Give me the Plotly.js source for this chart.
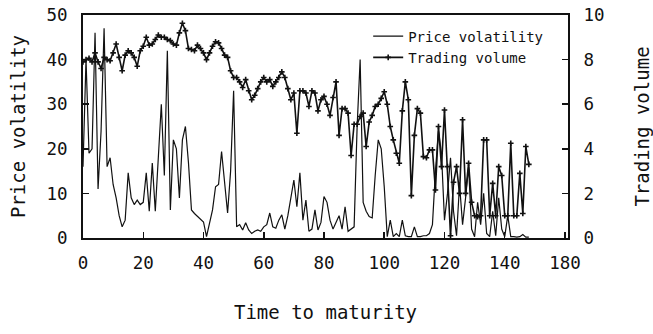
<!DOCTYPE html>
<html>
<head>
<meta charset="utf-8">
<script src="https://cdn.plot.ly/plotly-3.0.1.min.js"></script>
<style>
  html, body { margin: 0; padding: 0; background: #fff; }
  #chart { width: 653px; height: 334px; }
</style>
</head>
<body>
<div id="chart"></div>
<script>
// Days remaining until contract maturity
const timeToMaturity = [
  0, 1, 2, 3, 4, 5, 6, 7, 8, 9, 10, 11, 12, 13, 14, 15, 16, 17, 18, 19,
  20, 21, 22, 23, 24, 25, 26, 27, 28, 29, 30, 31, 32, 33, 34, 35, 36, 37, 38, 39,
  40, 41, 42, 43, 44, 45, 46, 47, 48, 49, 50, 51, 52, 53, 54, 55, 56, 57, 58, 59,
  60, 61, 62, 63, 64, 65, 66, 67, 68, 69, 70, 71, 72, 73, 74, 75, 76, 77, 78, 79,
  80, 81, 82, 83, 84, 85, 86, 87, 88, 89, 90, 91, 92, 93, 94, 95, 96, 97, 98, 99,
  100, 101, 102, 103, 104, 105, 106, 107, 108, 109, 110, 111, 112, 113, 114, 115, 116, 117, 118, 119,
  120, 121, 122, 123, 124, 125, 126, 127, 128, 129, 130, 131, 132, 133, 134, 135, 136, 137, 138, 139,
  140, 141, 142, 143, 144, 145, 146, 147, 148
];

// Price volatility (left axis)
const priceVolatility = [
  16, 40, 19, 20, 46, 11, 24, 47, 16, 18, 12, 9, 5, 2.5, 4, 14.6, 9, 7.5, 8.5, 7.5,
  8, 14.6, 6, 16.8, 6, 19.4, 30, 14, 42, 6.3, 22, 20, 9, 22, 25, 17, 6.3, 5.5, 4.8, 4.3,
  3.6, 0.3, 3.2, 6.3, 11.5, 12, 19.4, 12, 5.6, 15, 33, 2.5, 3, 1.8, 3.4, 1.8, 1, 1.5, 1.8, 1.5,
  2.5, 3, 5.6, 2.5, 2.2, 4, 5.2, 2, 5, 9, 13, 7, 14.6, 4, 8.5, 1.5, 2, 6.3, 1.8, 3.5,
  9.3, 8, 4, 2, 3.5, 5, 2, 7, 1.5, 2, 2.5, 25, 40, 8, 6, 4.8, 4.5, 14, 22, 20,
  11.5, 0.3, 4, 0.3, 1, 0.3, 4, 0.5, 0.3, 0.3, 2.5, 0.3, 0.3, 0.5, 0.5, 1, 3, 15, 24, 19,
  4, 10, 18, 6, 0.5, 12, 3, 9, 16, 2, 0.3, 8, 3, 10, 1, 0.3, 6, 0.5, 9, 2,
  0.3, 5, 0.3, 0.3, 0.2, 0.3, 0.8, 0.2, 0.2
];

// Trading volume (right axis)
const tradingVolume = [
  7.9, 8.0, 8.06, 7.9, 8.3, 7.9, 7.6, 8.1, 8.0, 7.95, 8.3, 8.7, 8.1, 7.5, 8.2, 8.4, 8.3, 8.1, 7.7, 8.4,
  8.6, 9.0, 8.65, 8.7, 8.9, 9.1, 9.0, 9.0, 8.9, 8.85, 8.7, 8.65, 9.2, 9.63, 9.3, 8.5, 8.45, 8.4, 8.65, 8.5,
  8.3, 8.0, 8.3, 8.6, 8.8, 8.75, 8.5, 8.2, 8.1, 7.5, 7.2, 7.2, 7.0, 6.75, 7.1, 6.6, 6.2, 6.4, 6.7, 7.0,
  7.2, 7.0, 7.1, 6.8, 7.0, 7.2, 7.45, 7.2, 6.7, 6.2, 6.5, 4.7, 6.6, 6.6, 6.5, 5.9, 6.6, 6.5, 5.7, 6.2,
  6.35, 6.0, 5.5, 6.3, 7.0, 4.6, 5.8, 5.8, 5.6, 3.7, 5.1, 5.1, 5.45, 5.6, 4.1, 5.2, 5.5, 5.9, 6.0, 6.26,
  6.56, 6.0, 5.0, 4.4, 3.8, 3.35, 5.7, 7.0, 6.2, 1.9, 4.6, 5.8, 5.6, 3.65, 3.6, 3.95, 3.95, 2.15, 5.0, 3.2,
  5.74, 3.2, 0.1, 2.5, 3.2, 2.0, 5.3, 2.0, 3.35, 1.6, 1.0, 0.95, 1.0, 4.4, 4.4, 1.0, 2.45, 1.0, 3.2, 2.8,
  1.0, 1.0, 4.25, 1.0, 1.0, 2.9, 1.1, 4.1, 3.3
];

// Axis ticks
const xTickVals = [0, 20, 40, 60, 80, 100, 120, 140, 160];
const xTickText = ['0', '20', '40', '60', '80', '100', '120', '140', '180'];
const leftTickVals = [0, 10, 20, 30, 40, 50];
const rightTickVals = [0, 2, 4, 6, 8, 10];

const ink = '#111111';
const fontFamily = '"DejaVu Sans Mono", "Liberation Mono", monospace';

const traces = [
  {
    name: 'Price volatility',
    x: timeToMaturity,
    y: priceVolatility,
    type: 'scatter',
    mode: 'lines',
    line: { color: ink, width: 1.2 },
    yaxis: 'y'
  },
  {
    name: 'Trading volume',
    x: timeToMaturity,
    y: tradingVolume,
    type: 'scatter',
    mode: 'lines+markers',
    line: { color: ink, width: 1.6 },
    marker: { symbol: 'cross-thin', size: 4, color: ink, line: { color: ink, width: 1.6 } },
    yaxis: 'y2'
  }
];

const axisCommon = {
  showgrid: false,
  zeroline: false,
  showline: true,
  linecolor: ink,
  linewidth: 2,
  ticks: 'inside',
  ticklen: 6,
  tickwidth: 1.5,
  tickcolor: ink,
  tickfont: { family: fontFamily, size: 17.5, color: ink }
};

const titleFont = { family: fontFamily, size: 19, color: ink };

const layout = {
  width: 653,
  height: 334,
  margin: { l: 83, r: 85, t: 15, b: 96 },
  paper_bgcolor: '#ffffff',
  plot_bgcolor: '#ffffff',
  showlegend: true,
  legend: {
    x: 0.588, y: 0.975, xanchor: 'left', yanchor: 'top',
    bgcolor: 'rgba(0,0,0,0)',
    font: { family: fontFamily, size: 14, color: ink },
    tracegroupgap: 0,
    itemwidth: 30
  },
  xaxis: Object.assign({}, axisCommon, {
    range: [0, 161],
    mirror: true,
    tickvals: xTickVals,
    ticktext: xTickText,
    ticklabelstandoff: 8,
    title: { text: 'Time to maturity', font: titleFont, standoff: 34 }
  }),
  yaxis: Object.assign({}, axisCommon, {
    range: [0, 50],
    tickvals: leftTickVals,
    ticklabelstandoff: 10,
    title: { text: 'Price volatility', font: titleFont, standoff: 16 }
  }),
  yaxis2: Object.assign({}, axisCommon, {
    range: [0, 10],
    overlaying: 'y',
    side: 'right',
    tickvals: rightTickVals,
    ticklabelstandoff: 10,
    title: { text: 'Trading volume', font: titleFont, standoff: 32 }
  })
};

Plotly.newPlot('chart', traces, layout, { displayModeBar: false, staticPlot: true });
</script>
</body>
</html>
